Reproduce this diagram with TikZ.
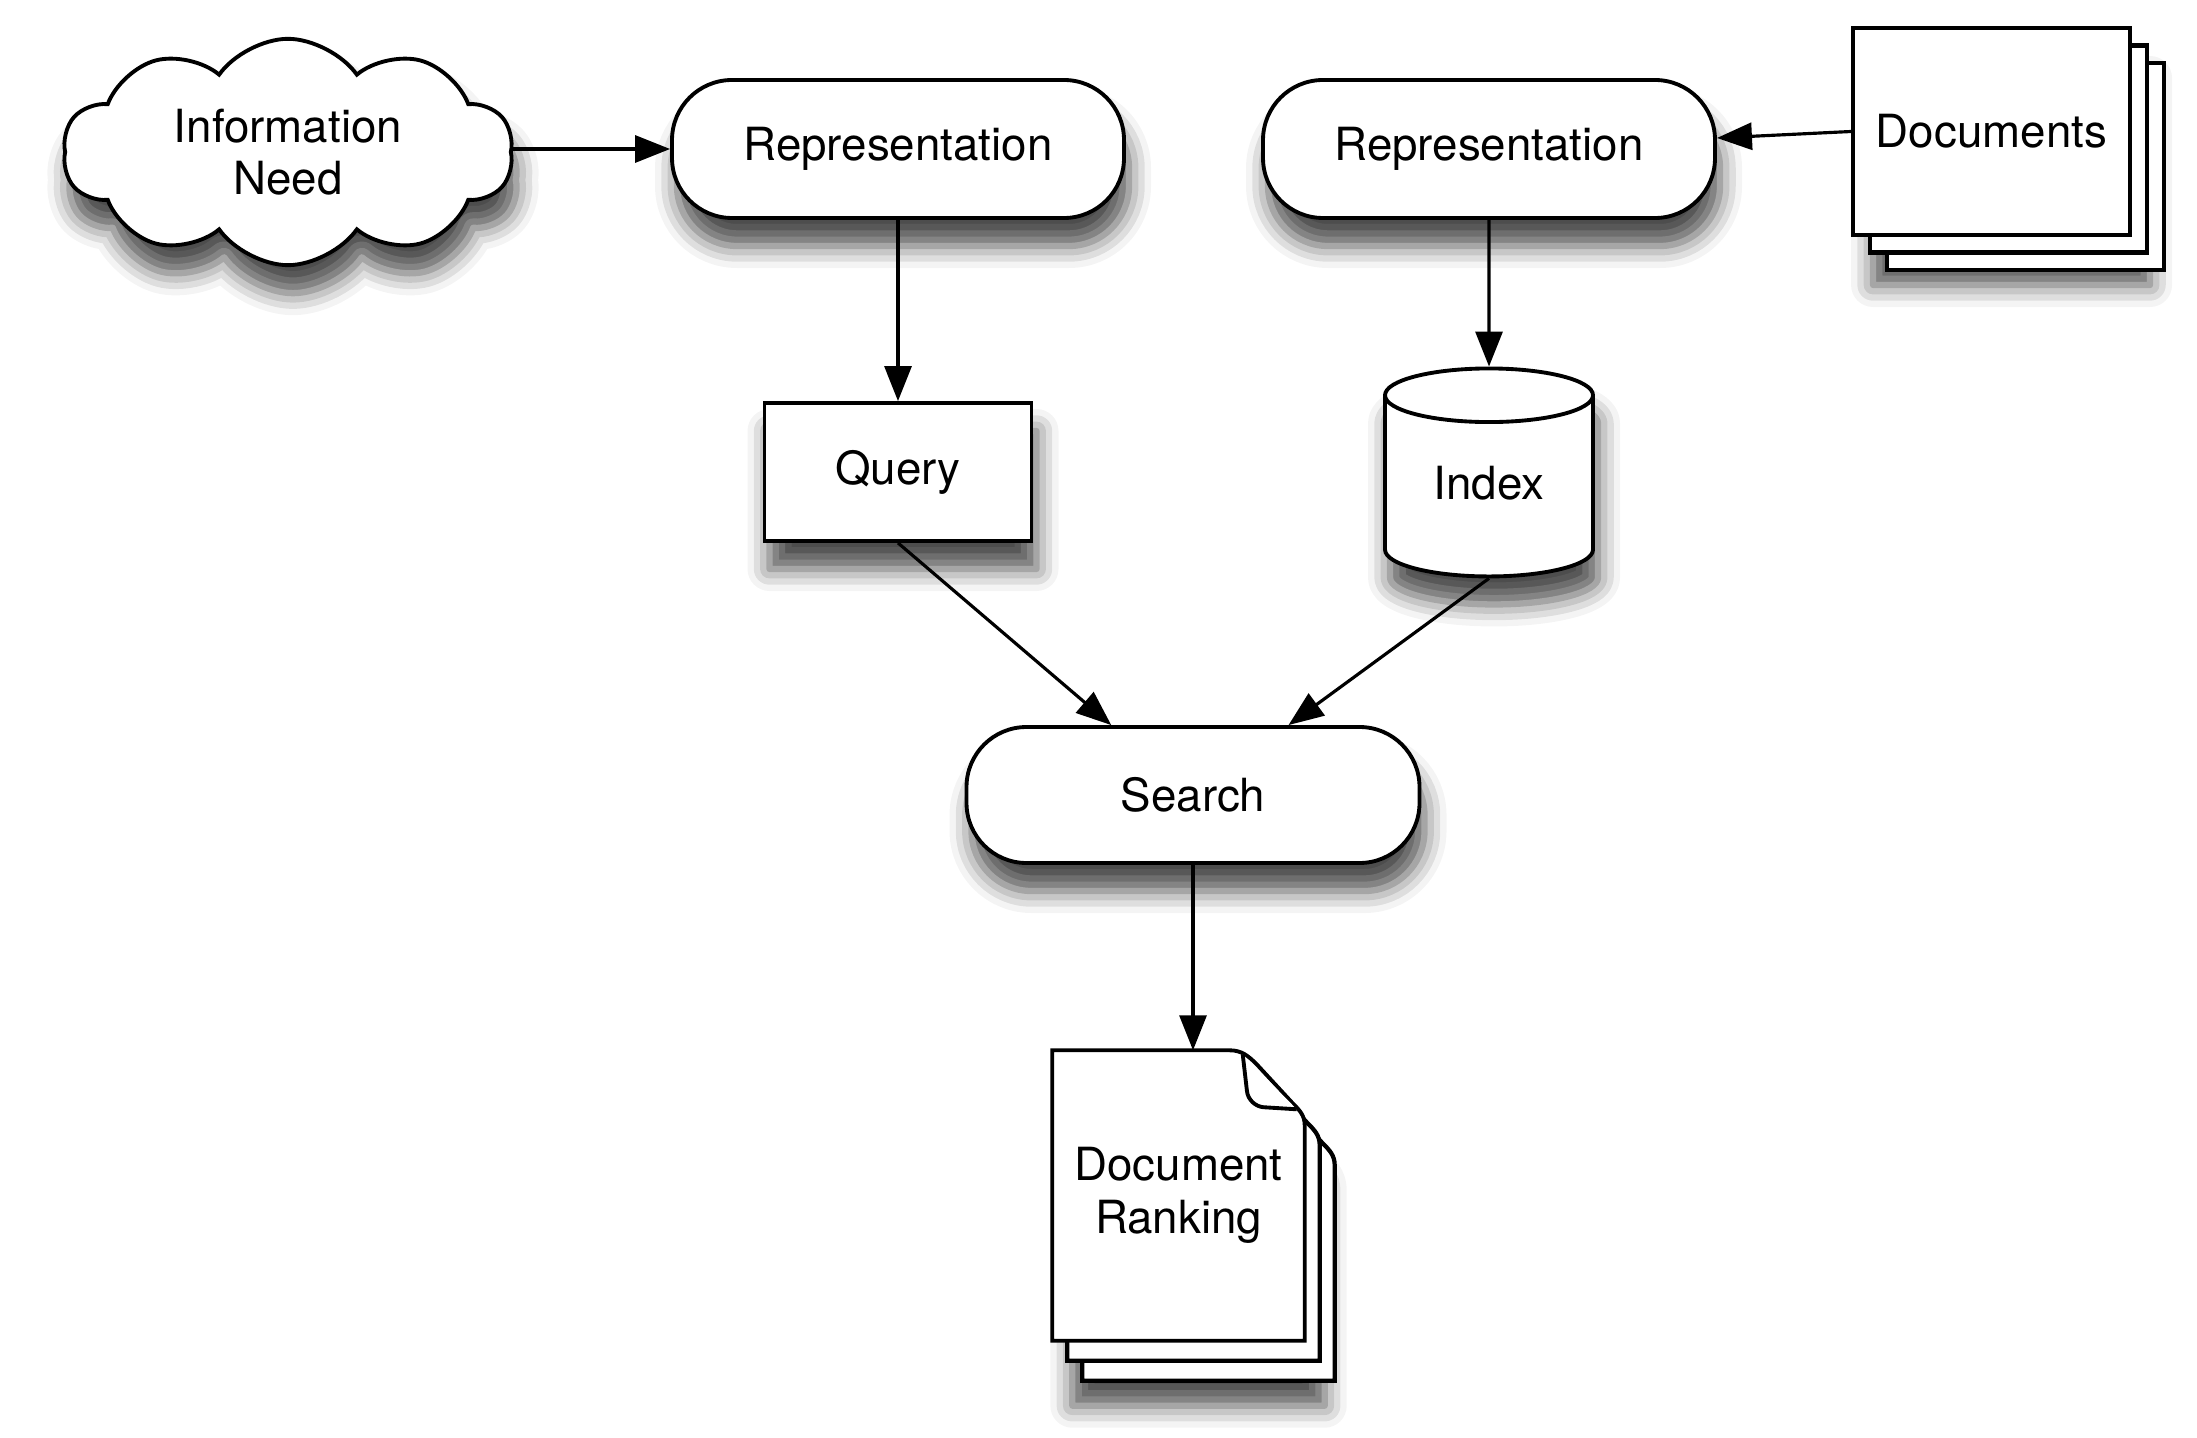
\documentclass[tikz,border=0pt]{standalone}
\usepackage{fontspec}
\setmainfont{TeX Gyre Heros}
\usetikzlibrary{positioning,arrows.meta,shapes.symbols,shapes.geometric,shadows.blur,backgrounds}
\begin{document}
\begin{tikzpicture}[
	every node/.style={font=\fontsize{13}{15}\selectfont,align=center},
	soft/.style={blur shadow={shadow xshift=0.5mm,shadow yshift=-2.8mm,shadow blur radius=2.2mm,shadow opacity=70}},
	box/.style={draw,line width=1.1pt,fill=white,soft},
	pill/.style={box,rounded corners=0.6cm,minimum width=4.52cm,minimum height=1.38cm},
	page/.style={draw,line width=1.1pt,fill=white},
	stack/.style={double copy shadow={shadow xshift=#1,shadow yshift=-1.75mm,draw=black,fill=white,line width=1.2pt}},
	link/.style={line width=0.9pt,-{Triangle[length=0.35cm,width=0.27cm]}}]
	\useasboundingbox (0,0) rectangle (21.97,-14.38);
	\node[box,cloud,cloud puffs=10,cloud puff arc=110,aspect=2,minimum width=4.5cm,minimum height=2.25cm] (need) at (2.88,-1.52) {Information\\Need};
	\node[pill] (rep1) at (8.98,-1.49) {Representation};
	\node[pill] (rep2) at (14.89,-1.49) {Representation};
	\node[page,blur shadow={shadow xshift=2mm,shadow yshift=-5mm,shadow blur radius=2.2mm,shadow opacity=70},stack=1.7mm,minimum width=2.77cm,minimum height=2.07cm] (docs) at (19.915,-1.315) {Documents};
	\node[box,cylinder,shape border rotate=90,aspect=0.4,minimum width=2.08cm,minimum height=2.08cm] (index) at (14.89,-4.93) {\raisebox{2mm}{Index}};
	\node[box,minimum width=2.67cm,minimum height=1.38cm] (query) at (8.98,-4.72) {Query};
	\node[pill,minimum width=4.53cm,minimum height=1.36cm] (search) at (11.93,-7.95) {Search};
	\node[minimum width=2.51cm,minimum height=2.89cm] (rank) at (11.785,-11.955) {Document\\Ranking};
	\begin{scope}[on background layer]
	\draw[page,blur shadow={shadow xshift=2mm,shadow yshift=-6.5mm,shadow blur radius=2.2mm,shadow opacity=70},double copy shadow={shadow xshift=1.5mm,shadow yshift=-2mm,draw=black,fill=white,line width=1.2pt}] (rank.south west) -- (rank.north west) -- ([xshift=-7.5mm]rank.north east) to[out=0,in=135] ([xshift=-4.8mm,yshift=-1.4mm]rank.north east) -- ([xshift=-1.2mm,yshift=-5.3mm]rank.north east) to[out=-45,in=90] ([yshift=-7.5mm]rank.north east) -- (rank.south east) -- cycle;
	\end{scope}
	\draw[page,rounded corners=1.5mm] ([xshift=-6.2mm,yshift=-0.4mm]rank.north east) -- ([xshift=-5.6mm,yshift=-5.6mm]rank.north east) -- ([xshift=-0.8mm,yshift=-5.9mm]rank.north east);
	\draw[link] (need.east |- rep1.west) -- (rep1.west);
	\draw[link] (docs.west) -- (rep2);
	\draw[link] (rep1.south) -- (query.north);
	\draw[link] (rep2.south) -- (index.north);
	\draw[link] (query.south) -- (search);
	\draw[link] (index.south) -- (search);
	\draw[link] (search.south) -- (search.south |- rank.north);
\end{tikzpicture}
\end{document}
